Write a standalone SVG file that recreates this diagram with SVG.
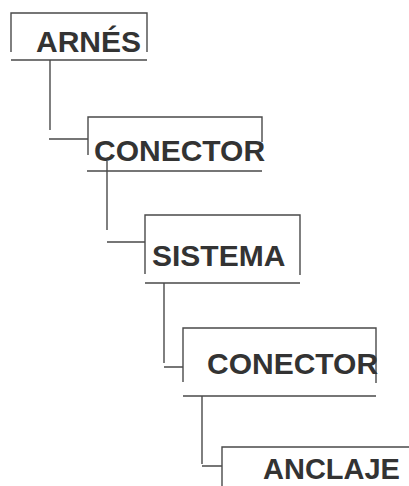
<svg xmlns="http://www.w3.org/2000/svg" width="409" height="486" viewBox="0 0 409 486">
<style>
.ln{stroke:#4a4a4a;stroke-width:1.4;fill:none}
.t{font-family:"Liberation Sans",Arial,sans-serif;font-size:30px;font-weight:bold;fill:#333}
</style>
<rect width="409" height="486" fill="#fff"/>
<g id="connectors" class="ln">
<path d="M50 60V130M49 139H88"/>
<path d="M107 161V230M107 242H145"/>
<path d="M164 283V363M164 367H183"/>
<path d="M202 396V464M202 466H222"/>
</g>
<g id="arnes">
<path class="ln" d="M11 52V13H147V52M11 60H147"/>
<text class="t" x="36" y="52">ARNÉS</text>
</g>
<g id="conector1">
<path class="ln" d="M88 155V117H262V142M87 171H262"/>
<text class="t" x="94" y="161">CONECTOR</text>
</g>
<g id="sistema">
<path class="ln" d="M145 274V215H300V275M145 283H300"/>
<text class="t" x="152" y="266">SISTEMA</text>
</g>
<g id="conector2">
<path class="ln" d="M183 382V328H376V383M183 396H376"/>
<text class="t" x="207" y="374">CONECTOR</text>
</g>
<g id="anclaje">
<path class="ln" d="M222 486V447H409"/>
<text class="t" x="263" y="479" style="font-size:29px">ANCLAJE</text>
</g>
</svg>
